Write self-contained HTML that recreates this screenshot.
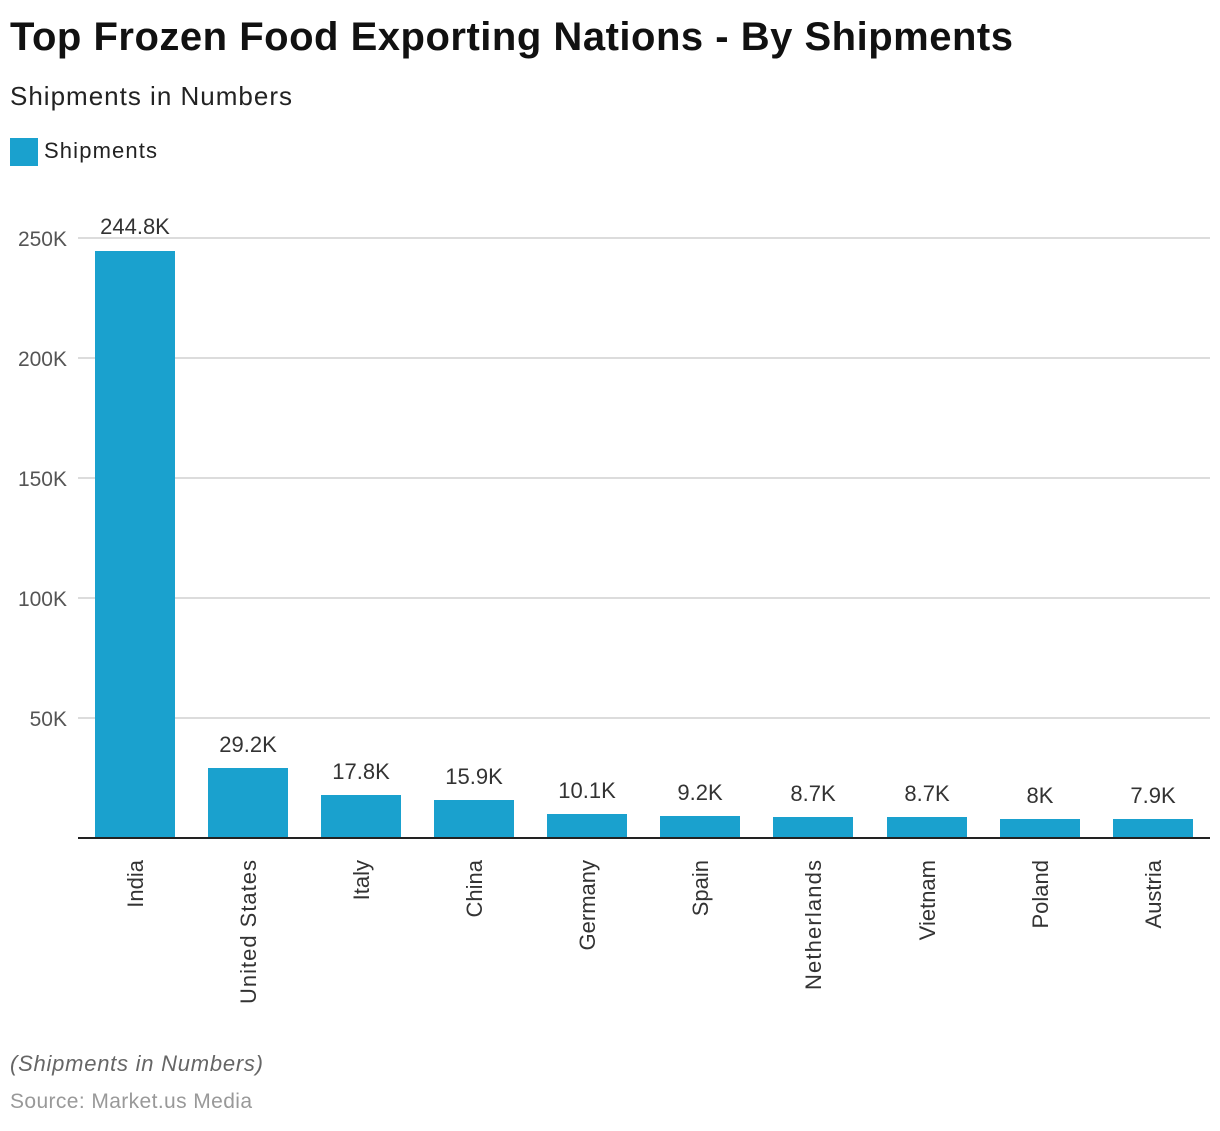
<!DOCTYPE html>
<html><head><meta charset="utf-8"><style>
body{margin:0;background:#fff;width:1220px;height:1126px;overflow:hidden;font-family:"Liberation Sans",Arial,sans-serif;}
</style></head><body>
<svg width="1220" height="1126" xmlns="http://www.w3.org/2000/svg" font-family="Liberation Sans, Arial, sans-serif">
<text x="10" y="50" font-size="40" font-weight="bold" fill="#111" textLength="1003">Top Frozen Food Exporting Nations - By Shipments</text>
<text x="10" y="105" font-size="26" fill="#222" textLength="282">Shipments in Numbers</text>
<rect x="10" y="138" width="28" height="28" fill="#1aa1ce"/>
<text x="44" y="158" font-size="22" fill="#222" textLength="113">Shipments</text>
<g stroke="#d0d0d0" stroke-width="1.5">
<line x1="78" y1="238" x2="1210" y2="238"/><line x1="78" y1="358" x2="1210" y2="358"/>
<line x1="78" y1="478" x2="1210" y2="478"/><line x1="78" y1="598" x2="1210" y2="598"/>
<line x1="78" y1="718" x2="1210" y2="718"/>
</g>
<g font-size="21" fill="#555" text-anchor="end">
<text x="67" y="246">250K</text><text x="67" y="366">200K</text><text x="67" y="486">150K</text>
<text x="67" y="606">100K</text><text x="67" y="726">50K</text>
</g>
<g fill="#1aa1ce">
<rect x="95" y="251" width="80" height="587"/>
<rect x="208" y="768" width="80" height="70"/>
<rect x="321" y="795" width="80" height="43"/>
<rect x="434" y="800" width="80" height="38"/>
<rect x="547" y="814" width="80" height="24"/>
<rect x="660" y="816" width="80" height="22"/>
<rect x="773" y="817" width="80" height="21"/>
<rect x="887" y="817" width="80" height="21"/>
<rect x="1000" y="819" width="80" height="19"/>
<rect x="1113" y="819" width="80" height="19"/>
</g>
<line x1="78" y1="838" x2="1210" y2="838" stroke="#222" stroke-width="2"/>
<g font-size="22" fill="#333" text-anchor="middle">
<text x="135" y="234">244.8K</text><text x="248" y="752">29.2K</text><text x="361" y="779">17.8K</text>
<text x="474" y="784">15.9K</text><text x="587" y="798">10.1K</text><text x="700" y="800">9.2K</text>
<text x="813" y="801">8.7K</text><text x="927" y="801">8.7K</text><text x="1040" y="803">8K</text>
<text x="1153" y="803">7.9K</text>
</g>
<g font-size="22" fill="#333" text-anchor="end">
<text transform="translate(143,860) rotate(-90)">India</text>
<text transform="translate(256,860) rotate(-90)" textLength="144">United States</text>
<text transform="translate(369,860) rotate(-90)">Italy</text>
<text transform="translate(482,860) rotate(-90)">China</text>
<text transform="translate(595,860) rotate(-90)">Germany</text>
<text transform="translate(708,860) rotate(-90)">Spain</text>
<text transform="translate(821,860) rotate(-90)" textLength="130">Netherlands</text>
<text transform="translate(935,860) rotate(-90)">Vietnam</text>
<text transform="translate(1048,860) rotate(-90)">Poland</text>
<text transform="translate(1161,860) rotate(-90)">Austria</text>
</g>
<text x="10" y="1071" font-size="22" font-style="italic" fill="#666" textLength="253">(Shipments in Numbers)</text>
<text x="10" y="1108" font-size="21" fill="#999" textLength="242">Source: Market.us Media</text>
</svg>
</body></html>
